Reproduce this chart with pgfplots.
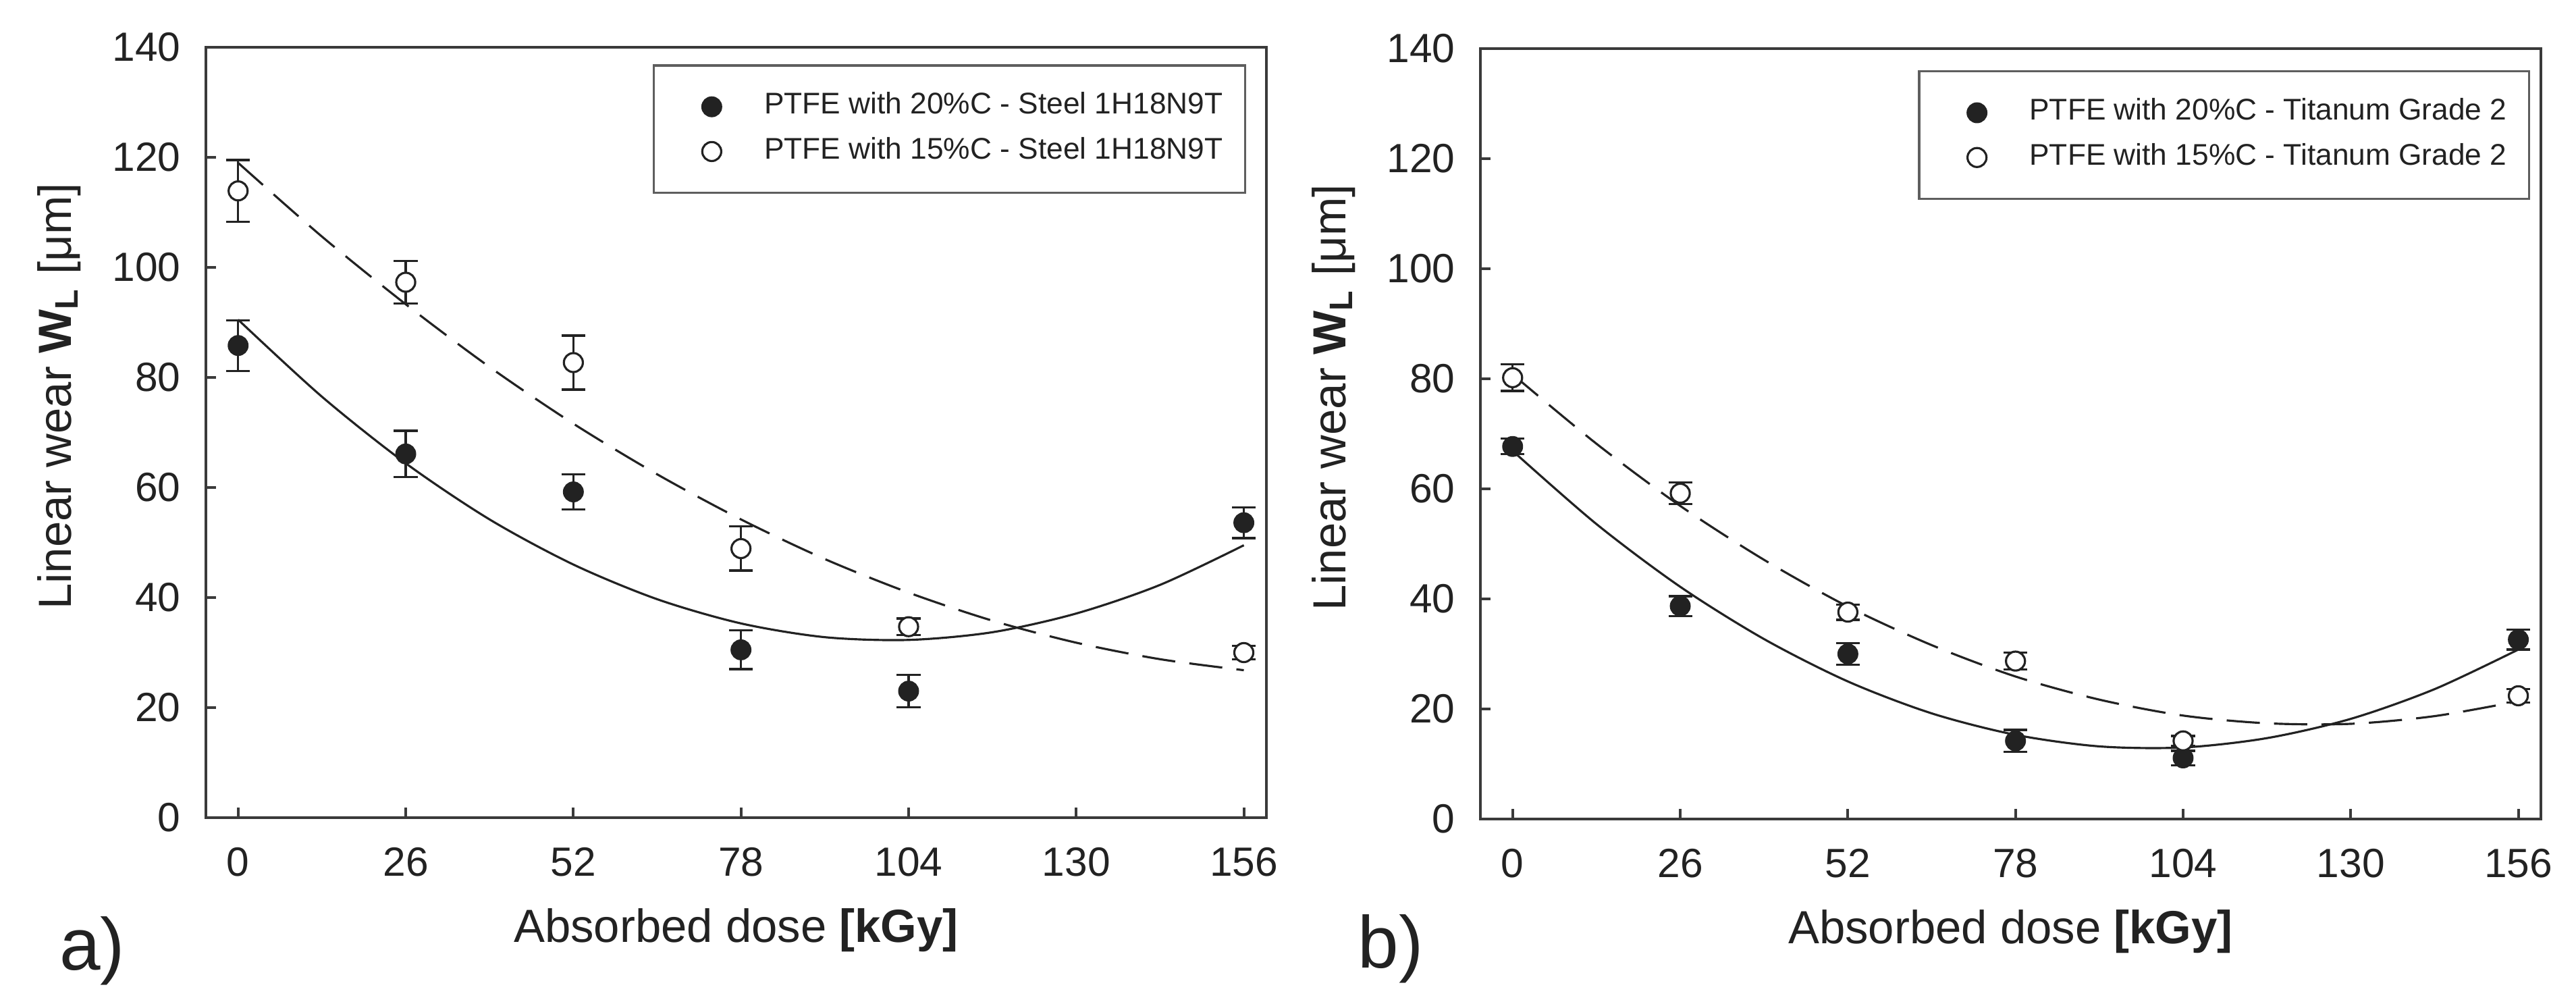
\documentclass[border=0pt]{standalone}
\usepackage{pgfplots}
\pgfplotsset{compat=1.18}
\usepackage{pgfplotstable}
\usepackage{fontspec}
\setmainfont{Liberation Sans}

\definecolor{ink}{HTML}{222222}
\definecolor{axisgray}{HTML}{3A3A3A}
\definecolor{boxgray}{HTML}{5E5E5E}

% measured points: dose, wear, error
\pgfplotstableread{
x y e
0 85.8 4.6
26 66.1 4.2
52 59.2 3.2
78 30.5 3.5
104 23.0 2.9
156 53.6 2.8
}\aFilled
\pgfplotstableread{
x y e
0 113.9 5.6
26 97.3 3.9
52 82.7 4.9
78 48.9 4.0
104 34.7 1.5
156 30.0 1.2
}\aOpen
\pgfplotstableread{
x y e
0 67.7 1.4
26 38.7 1.8
52 30.0 2.0
78 14.2 2.0
104 11.1 1.3
156 32.6 1.8
}\bFilled
\pgfplotstableread{
x y e
0 80.2 2.4
26 59.2 2.0
52 37.6 1.4
78 28.7 1.5
104 14.2 0.9
156 22.4 1.2
}\bOpen

% fitted curves
\pgfplotstableread{
x y
0 90.5
13 76.5
26 64.4
39 54.2
52 46.0
65 39.7
78 35.3
91 32.8
104 32.3
117 33.7
130 37.1
143 42.3
156 49.5
}\aFitSolid
\pgfplotstableread{
x y
0 119.0
13 105.6
26 93.3
39 81.9
52 71.6
65 62.4
78 54.2
91 47.0
104 40.9
117 35.8
130 31.8
143 28.8
156 26.8
}\aFitDash
\pgfplotstableread{
x y
0 66.9
13 53.6
26 42.2
39 32.7
52 25.0
65 19.2
78 15.3
91 13.2
104 13.0
117 14.7
130 18.2
143 23.6
156 30.8
}\bFitSolid
\pgfplotstableread{
x y
0 80.8
13 68.2
26 56.9
39 47.1
52 38.6
65 31.6
78 25.9
91 21.7
104 18.8
117 17.4
130 17.3
143 18.7
156 21.4
}\bFitDash

\pgfplotsset{
  panel/.style={
    scale only axis, width=7.855cm, height=5.705cm,
    xmin=-5, xmax=159.5, ymin=0, ymax=140,
    xtick={0,26,...,156}, ytick={0,20,...,140},
    xtick pos=bottom, ytick pos=left,
    tick align=inside, major tick length=0.075cm,
    axis line style={axisgray, line width=0.55pt},
    tick style={axisgray, line width=0.55pt},
    /pgf/number format/assume math mode=true,
    ticklabel style={font=\fontsize{8.6}{10}\selectfont, text=ink},
    yticklabel style={inner sep=0pt, anchor=east, xshift=-0.18cm},
    xticklabel style={inner sep=0pt, anchor=north, yshift=-0.215cm},
    xlabel={Absorbed dose \textbf{[kGy]}},
    ylabel={Linear wear \textbf{W}\textsubscript{\textbf{L}} [μm]},
    label style={font=\fontsize{9.8}{11}\selectfont, text=ink, inner sep=0pt},
    xlabel style={at={(axis description cs:0.5,-0.1166)}, anchor=north},
    ylabel style={at={(axis description cs:-0.1271,0.547)}, anchor=base},
    legend style={draw=boxgray, line width=0.5pt,
      font=\fontsize{6.3}{7}\selectfont, text=ink,
      inner xsep=0.165cm, inner ysep=0.2cm, row sep=0.118cm,
      column sep=0pt, nodes={inner sep=0pt}, anchor=north east},
    legend cell align=left,
    legend image code/.code={\path (0cm,0cm) (0.635cm,0cm);
      \draw[##1] plot coordinates {(0.255cm,0cm)};},
  },
  fitline/.style={ink, line width=0.45pt, smooth, no markers, forget plot},
  fitdash/.style={fitline, dash pattern=on 7pt off 3pt},
  pts/.style={only marks, mark=*, mark size=2pt, ink,
    error bars/y dir=both, error bars/y explicit,
    error bars/error bar style={ink, line width=0.45pt},
    error bars/error mark options={rotate=90, mark size=2.5pt, line width=0.45pt, ink}},
  filledpts/.style={pts, mark options={fill=ink, draw=ink, line width=0.4pt}},
  openpts/.style={pts, mark options={fill=white, draw=ink, line width=0.45pt}},
}

\begin{document}
\begin{tikzpicture}
\useasboundingbox (0,0) rectangle (19.08cm,7.415cm);

\begin{axis}[panel, name=A, at={(1.525cm,1.36cm)}, anchor=south west,
  legend style={at={(rel axis cs:0.981,0.978)}}]
  \addplot[fitline] table[x=x,y=y] {\aFitSolid};
  \addplot[fitdash] table[x=x,y=y] {\aFitDash};
  \addplot[filledpts] table[x=x,y=y,y error=e] {\aFilled};
  \addlegendentry{PTFE with 20\%C - Steel 1H18N9T}
  \addplot[openpts] table[x=x,y=y,y error=e] {\aOpen};
  \addlegendentry{PTFE with 15\%C - Steel 1H18N9T}
\end{axis}

\begin{axis}[panel, name=B, at={(10.965cm,1.35cm)}, anchor=south west,
  legend style={at={(rel axis cs:0.990,0.972)}}]
  \addplot[fitline] table[x=x,y=y] {\bFitSolid};
  \addplot[fitdash] table[x=x,y=y] {\bFitDash};
  \addplot[filledpts] table[x=x,y=y,y error=e] {\bFilled};
  \addlegendentry{PTFE with 20\%C - Titanum Grade 2}
  \addplot[openpts] table[x=x,y=y,y error=e] {\bOpen};
  \addlegendentry{PTFE with 15\%C - Titanum Grade 2}
\end{axis}

\node[anchor=base west, inner sep=0pt, text=ink, font=\fontsize{15.5}{17}\selectfont]
  at ([xshift=-1.09cm,yshift=-1.125cm]A.south west) {a)};
\node[anchor=base west, inner sep=0pt, text=ink, font=\fontsize{15.5}{17}\selectfont]
  at ([xshift=-0.915cm,yshift=-1.10cm]B.south west) {b)};
\end{tikzpicture}
\end{document}
